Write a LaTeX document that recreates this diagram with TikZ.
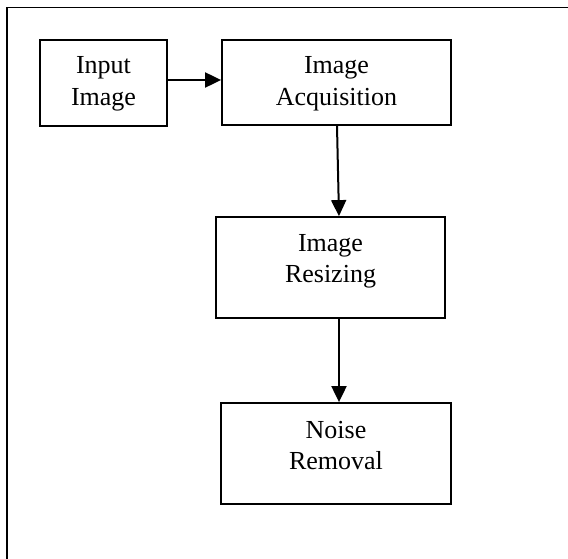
\documentclass[tikz,border=0pt]{standalone}
\usepackage{fontspec}
\setmainfont{Liberation Serif}
\usetikzlibrary{arrows.meta}
\tikzset{
  box/.style = {draw, line width=1.8pt, inner sep=0pt},
  txt/.style = {inner sep=0pt, align=center, anchor=north, font=\fontsize{26}{31.5}\selectfont},
  arr/.style = {line width=2pt, -{Triangle[length=16pt,width=15pt]}}
}
\begin{document}
\begin{tikzpicture}[x=1pt, y=-1pt]
\useasboundingbox (0,0) rectangle (568,559);
%% ramme
\begin{scope}
\clip (0,0) rectangle (568,559);
\draw [line width=1.6pt] (6.7,7.6) rectangle (600,600);
\end{scope}
%% bokser
\node [box, minimum width=127pt, minimum height=86pt]  (input)  at (103.5,83)  {};
\node [box, minimum width=229pt, minimum height=85pt]  (acq)    at (336.5,82.5) {};
\node [box, minimum width=229pt, minimum height=101pt] (resize) at (330.5,267.5) {};
\node [box, minimum width=230pt, minimum height=101pt] (noise)  at (336,453.5) {};
%% tekst
\node [txt] (inputtxt)  at ([yshift=-17.3pt]input.north)  {Input\\Image};
\node [txt] (acqtxt)    at ([yshift=-17.5pt]acq.north)    {Image\\Acquisition};
\node [txt] (resizetxt) at ([yshift=-18pt]resize.north)   {Image\\Resizing};
\node [txt] (noisetxt)  at ([yshift=-18.5pt]noise.north)  {Noise\\Removal};
%% piler
\draw [arr] ([yshift=3pt]input.east) -- ([yshift=2.5pt]acq.west);
\draw [arr] ([xshift=0.5pt]acq.south) -- ([xshift=8.5pt]resize.north);
\draw [arr] ([xshift=8.5pt]resize.south) -- ([xshift=3pt]noise.north);
\end{tikzpicture}
\end{document}
